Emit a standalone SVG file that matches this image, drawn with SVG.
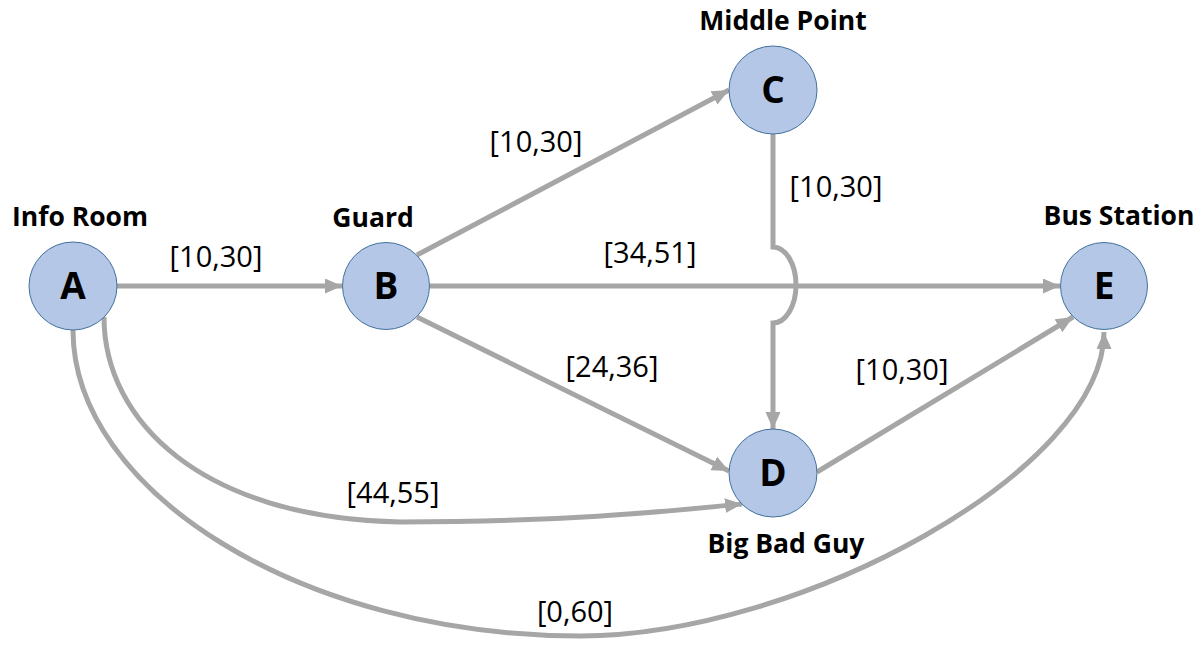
<svg xmlns="http://www.w3.org/2000/svg" width="1199" height="650" viewBox="0 0 1199 650">
<style>
.node{fill:#b4c7e7;stroke:#41719c;stroke-width:1}
.letter{font-family:"Open Sans","Liberation Sans",sans-serif;font-weight:bold;font-size:37px;text-anchor:middle;fill:#000}
.name{font-family:"Open Sans","Liberation Sans",sans-serif;font-weight:bold;font-size:26.5px;text-anchor:middle;fill:#000}
.lbl{font-family:"Open Sans","Liberation Sans",sans-serif;font-size:29px;text-anchor:middle;fill:#000}
.edge{fill:none;stroke:#a6a6a6;stroke-width:5;marker-end:url(#arr)}
</style>
<defs>
<marker id="arr" markerUnits="userSpaceOnUse" markerWidth="19" markerHeight="17" refX="17" refY="7.5" orient="auto">
<path d="M0,0 L17,7.5 L0,15 z" fill="#a6a6a6"/>
</marker>
</defs>
<rect width="1199" height="650" fill="#fff"/>
<g id="connectors">
<path class="edge" d="M117,286 L342,286"/>
<path class="edge" d="M417,255 L729,90"/>
<path class="edge" d="M430,286 L1060,286"/>
<path class="edge" d="M417,317 L729,471"/>
<path class="edge" d="M773,134 L773,247 A23 38 0 0 1 773,323 L773,429"/>
<path class="edge" d="M817,472 L1073,317"/>
<path class="edge" d="M104,317 C104,420 200,518 400,522 C560,522 660,512 742,504"/>
<path class="edge" d="M73,330 C73,490 300,636 580,636 C800,636 1104,470 1104,332"/>
<text class="lbl" x="216" y="267">[10,30]</text>
<text class="lbl" x="536" y="152">[10,30]</text>
<text class="lbl" x="650" y="263">[34,51]</text>
<text class="lbl" x="836" y="197">[10,30]</text>
<text class="lbl" x="612" y="377">[24,36]</text>
<text class="lbl" x="902" y="380">[10,30]</text>
<text class="lbl" x="393" y="503">[44,55]</text>
<text class="lbl" x="575" y="622">[0,60]</text>
</g>
<g id="A">
<circle class="node" cx="73" cy="286" r="44"/>
<text class="letter" x="73" y="299">A</text>
<text class="name" x="80" y="226">Info Room</text>
</g>
<g id="B">
<circle class="node" cx="386" cy="286" r="43.5"/>
<text class="letter" x="386" y="299">B</text>
<text class="name" x="373" y="227">Guard</text>
</g>
<g id="C">
<circle class="node" cx="773" cy="90" r="44"/>
<text class="letter" x="773" y="103">C</text>
<text class="name" x="783" y="30">Middle Point</text>
</g>
<g id="D">
<circle class="node" cx="773" cy="473" r="44"/>
<text class="letter" x="773" y="486">D</text>
<text class="name" x="786" y="553">Big Bad Guy</text>
</g>
<g id="E">
<circle class="node" cx="1104" cy="286" r="43.5"/>
<text class="letter" x="1104" y="299">E</text>
<text class="name" x="1119" y="225">Bus Station</text>
</g>
</svg>
